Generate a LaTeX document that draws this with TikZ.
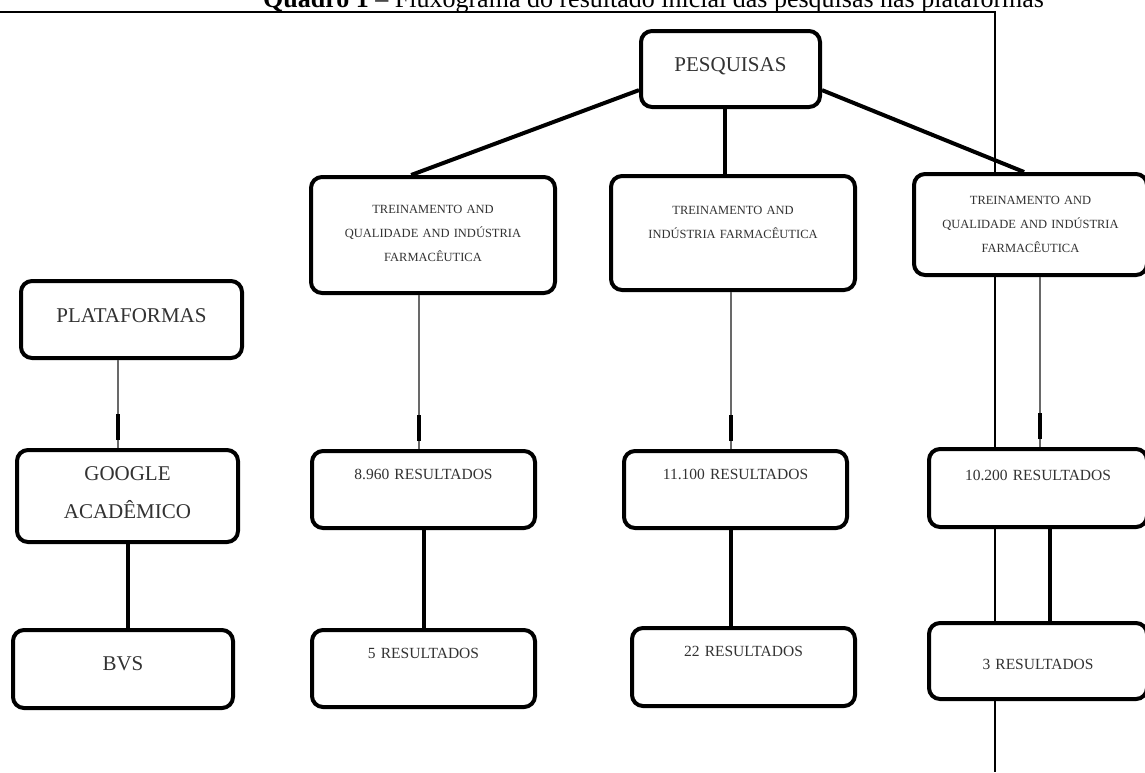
\documentclass[tikz,border=0pt]{standalone}
\usepackage{fontspec}
\setmainfont{Liberation Serif}
\usetikzlibrary{positioning}
\definecolor{ink}{RGB}{50,50,50}
\definecolor{wire}{RGB}{105,105,105}
\tikzset{
  box/.style={draw=black,line width=4pt,rounded corners=11pt,fill=white,
              inner sep=0pt,align=center,text=ink,anchor=north west},
  bigbox/.style={box,font=\fontsize{21}{38}\selectfont},
  smallbox/.style={box,font=\fontsize{12.5}{24}\selectfont},
  resbox/.style={box,font=\fontsize{15.5}{19}\selectfont,text width=223pt,
                 text height=28pt,text depth=49pt},
  link/.style={line width=4pt,draw=black},
  weaklink/.style={line width=2pt,draw=wire,
                   postaction={draw=black,line width=4pt,
                               dash pattern=on 0pt off 8pt on 26pt off 2000pt}},
  frameline/.style={line width=1.2pt,draw=black}
}

\begin{document}
\begin{tikzpicture}[x=1pt,y=-1pt,node distance=90pt]
  \useasboundingbox (0,0) rectangle (1145,772);
  \node[anchor=base west,inner sep=0pt,font=\fontsize{26}{30}\selectfont] (title) at (263,7)
    {\textbf{Quadro 1} – Fluxograma do resultado inicial das pesquisas nas plataformas};
  \draw[frameline] (0,12) -- (995,12) -- (995,772);

  % top level
  \node[bigbox,text width=179pt,text height=40pt,text depth=36pt] (pesq) at (639,29) {PESQUISAS};
  \node[smallbox,text width=244pt,text height=36pt,text depth=80pt] (trein1) at (309,175)
    {TREINAMENTO AND\\QUALIDADE AND INDÚSTRIA\\FARMACÊUTICA};
  \node[smallbox,text width=244pt,text height=38pt,text depth=76pt] (trein2) at (609,174)
    {TREINAMENTO AND\\INDÚSTRIA FARMACÊUTICA};
  \node[smallbox,text width=233pt,text height=30pt,text depth=71pt] (trein3) at (912,172)
    {TREINAMENTO AND\\QUALIDADE AND INDÚSTRIA\\FARMACÊUTICA};

  % platforms
  \node[bigbox,text width=221pt,text height=41pt,text depth=36pt] (plat) at (19,279) {PLATAFORMAS};
  \node[bigbox,text width=221pt,text height=30pt,text depth=62pt,below=88pt of plat,xshift=-4pt] (google)
    {GOOGLE\\ACADÊMICO};
  \node[bigbox,text width=220pt,text height=40pt,text depth=38pt,below=84pt of google,xshift=-4.5pt] (bvs) {BVS};

  % results
  \node[resbox] (res1) at (310,449) {8.960 RESULTADOS};
  \node[resbox] (res2) at (622,449) {11.100 RESULTADOS};
  \node[resbox,text width=218pt,text height=31pt,text depth=47pt] (res3) at (927,447) {10.200 RESULTADOS};
  \node[resbox,below=98pt of res1] (fin1) {5 RESULTADOS};
  \node[resbox,text depth=50pt,below=96pt of res2,xshift=8pt] (fin2) {22 RESULTADOS};
  \node[resbox,text width=218pt,text height=46pt,text depth=30pt,below=92pt of res3] (fin3) {3 RESULTADOS};

  \draw[link] (pesq.193) -- (trein1.110);
  \draw[link] (pesq.262) -- (pesq.262 |- trein2.north);
  \draw[link] (pesq.347) -- (trein3.97);
  \draw[weaklink] ([xshift=-10pt]google.north) -- ([xshift=-10pt]google.north |- plat.south);
  \draw[weaklink] ([xshift=-5pt]res1.north) -- ([xshift=-5pt]res1.north |- trein1.south);
  \draw[weaklink] ([xshift=-5pt]res2.north) -- ([xshift=-5pt]res2.north |- trein2.south);
  \draw[weaklink] ([xshift=2pt]res3.north) -- ([xshift=2pt]res3.north |- trein3.south);
  \draw[link] (google.south) -- (google.south |- bvs.north);
  \draw[link] (res1) -- (fin1);
  \draw[link] ([xshift=-5pt]res2.south) -- ([xshift=-5pt]res2.south |- fin2.north);
  \draw[link] ([xshift=12pt]res3.south) -- ([xshift=12pt]res3.south |- fin3.north);
\end{tikzpicture}
\end{document}
